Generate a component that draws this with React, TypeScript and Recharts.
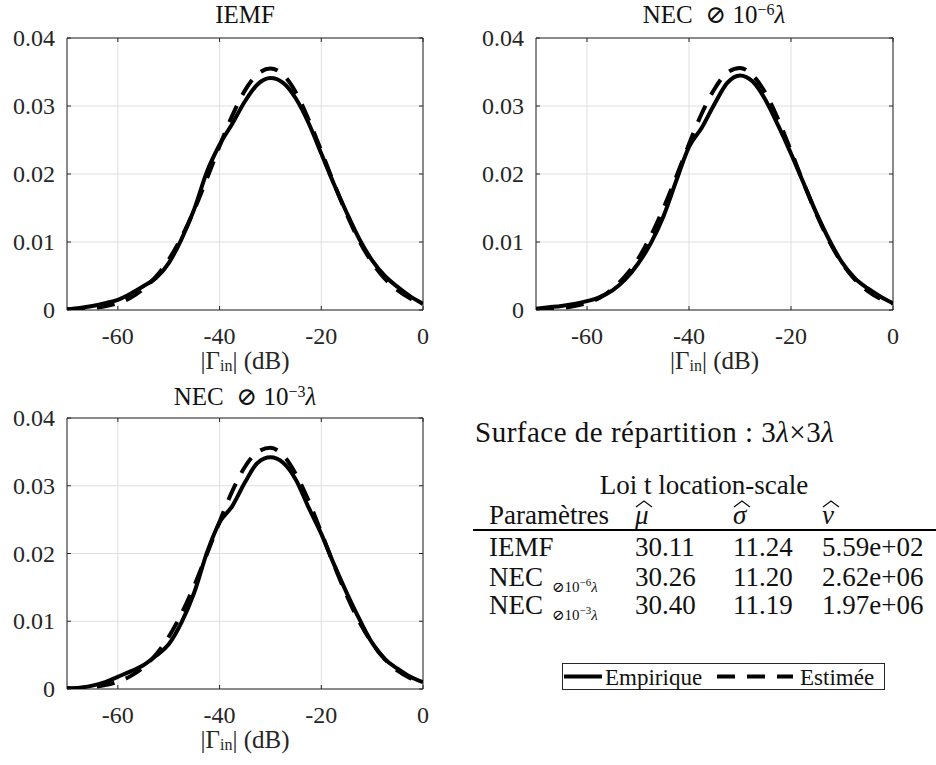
import React from "react"
import {
  CartesianGrid,
  Legend,
  Line,
  LineChart,
  ReferenceArea,
  XAxis,
  YAxis,
} from "recharts"

// |Gamma_in| in dB, sampled every 2.5 dB
const gammaDb = [
  -70, -67.5, -65, -62.5, -60, -57.5, -55, -52.5, -50, -47.5, -45, -42.5, -40,
  -37.5, -35, -32.5, -30, -27.5, -25, -22.5, -20, -17.5, -15, -12.5, -10, -7.5,
  -5, -2.5, 0,
]

const iemfEmpirique = [
  0.0001, 0.0003, 0.0006, 0.001, 0.0015, 0.0024, 0.0035, 0.0047, 0.0069,
  0.0104, 0.0148, 0.0203, 0.0243, 0.0274, 0.0307, 0.0332, 0.0341, 0.0334,
  0.0311, 0.0275, 0.023, 0.0185, 0.0143, 0.0104, 0.0073, 0.005, 0.0034, 0.002,
  0.0009,
]
const iemfEstimee = [
  0.00007, 0.00014, 0.0003, 0.00056, 0.001, 0.0018, 0.0031, 0.0049, 0.0074,
  0.0107, 0.0147, 0.0193, 0.0241, 0.0286, 0.0323, 0.0347, 0.0355, 0.0346,
  0.032, 0.028, 0.0234, 0.0186, 0.0141, 0.0101, 0.007, 0.0046, 0.0029, 0.0017,
  0.001,
]

const nec6Empirique = [
  0.0002, 0.0004, 0.0006, 0.0009, 0.0013, 0.0019, 0.0029, 0.0045, 0.0068,
  0.0098, 0.0138, 0.019, 0.024, 0.0268, 0.0303, 0.0334, 0.0345, 0.0336,
  0.0309, 0.0271, 0.023, 0.0186, 0.0142, 0.0103, 0.007, 0.0047, 0.0032, 0.002,
  0.001,
]
const nec6Estimee = [
  0.00007, 0.00014, 0.0003, 0.00057, 0.00104, 0.0018, 0.0031, 0.005, 0.0075,
  0.0109, 0.015, 0.0196, 0.0244, 0.0289, 0.0325, 0.0349, 0.0356, 0.0345,
  0.0319, 0.028, 0.0234, 0.0186, 0.0141, 0.0101, 0.0069, 0.0045, 0.0028,
  0.00165, 0.00093,
]

const nec3Empirique = [
  0.0001, 0.0002, 0.0005, 0.001, 0.0018, 0.0026, 0.0035, 0.0049, 0.0066,
  0.0098, 0.0142, 0.0201, 0.0246, 0.027, 0.0305, 0.0334, 0.0342, 0.0334,
  0.0309, 0.0268, 0.0229, 0.0184, 0.0142, 0.0103, 0.0068, 0.0044, 0.003,
  0.0018, 0.001,
]
const nec3Estimee = [
  0.00007, 0.00015, 0.0003, 0.00058, 0.00108, 0.0019, 0.0032, 0.0051, 0.0077,
  0.0111, 0.0152, 0.0199, 0.0247, 0.0292, 0.0328, 0.035, 0.0356, 0.0345,
  0.0317, 0.0278, 0.0231, 0.0183, 0.0138, 0.0099, 0.0068, 0.0044, 0.0027,
  0.0016, 0.0009,
]

const xTicks = [-60, -40, -20, 0]
const xTickLabels = ["-60", "-40", "-20", "0"]
const yTicks = [0, 0.01, 0.02, 0.03, 0.04]
const yTickLabels = ["0", "0.01", "0.02", "0.03", "0.04"]

// table: t location-scale fit
const tableNames = ["IEMF", "NEC", "NEC"]
const tableSubExp = ["", "−6", "−3"]
const muHat = ["30.11", "30.26", "30.40"]
const sigmaHat = ["11.24", "11.20", "11.19"]
const nuHat = ["5.59e+02", "2.62e+06", "1.97e+06"]

const legendItems = [
  { name: "Empirique", dash: undefined as string | undefined },
  { name: "Estimée", dash: "18 12" },
]

const FONT = '"Liberation Serif", "DejaVu Serif", serif'
const INK = "#262626"
const GRID = "#dfdfdf"

const toRows = (emp: number[], est: number[]) =>
  gammaDb.map((x, i) => ({ x, emp: emp[i], est: est[i] }))

const makeXTick = (plotH: number) => (p: any) => {
  const { x, y, payload } = p
  const i = xTicks.indexOf(payload.value)
  return (
    <g>
      <line x1={x} y1={y} x2={x} y2={y - 4} stroke={INK} />
      <line x1={x} y1={y - plotH} x2={x} y2={y - plotH + 4} stroke={INK} />
      <text
        x={x}
        y={y + 26}
        textAnchor="middle"
        dominantBaseline="central"
        fontFamily={FONT}
        fontSize={24}
        fill={INK}
      >
        {xTickLabels[i]}
      </text>
    </g>
  )
}

const makeYTick = (plotW: number) => (p: any) => {
  const { x, y, payload } = p
  const i = yTicks.indexOf(payload.value)
  return (
    <g>
      <line x1={x} y1={y} x2={x + 4} y2={y} stroke={INK} />
      <line x1={x + plotW} y1={y} x2={x + plotW - 4} y2={y} stroke={INK} />
      <text
        x={x - 12}
        y={y}
        textAnchor="end"
        dominantBaseline="central"
        fontFamily={FONT}
        fontSize={24}
        fill={INK}
      >
        {yTickLabels[i]}
      </text>
    </g>
  )
}

const XLabel = (props: any) => {
  const { viewBox } = props
  const cx = viewBox.x + viewBox.width / 2
  const cy = viewBox.y + 50
  return (
    <text
      x={cx}
      y={cy}
      textAnchor="middle"
      dominantBaseline="central"
      fontFamily={FONT}
      fontSize={25}
      fill={INK}
    >
      <tspan>|Γ</tspan>
      <tspan dy={5} fontSize={16}>
        in
      </tspan>
      <tspan dy={-5}>| (dB)</tspan>
    </text>
  )
}

const LegendBox = () => (
  <svg width={323} height={27} style={{ display: "block" }}>
    <rect x={0.5} y={0.5} width={322} height={26} fill="#fff" stroke={INK} />
    <line x1={2} y1={13.5} x2={40} y2={13.5} stroke="#000" strokeWidth={4} />
    <text x={43} y={14} dominantBaseline="central" fontFamily={FONT} fontSize={23} fill="#111">
      {legendItems[0].name}
    </text>
    <line
      x1={155}
      y1={13.5}
      x2={231}
      y2={13.5}
      stroke="#000"
      strokeWidth={4}
      strokeDasharray={legendItems[1].dash}
    />
    <text x={238} y={14} dominantBaseline="central" fontFamily={FONT} fontSize={23} fill="#111">
      {legendItems[1].name}
    </text>
  </svg>
)

type PanelProps = {
  data: { x: number; emp: number; est: number }[]
  width: number
  height: number
  margin: { top: number; right: number; bottom: number; left: number }
  xAxisHeight: number
  plotW: number
  plotH: number
  legendPos?: { left: number; top: number }
}

const PdfPanel: React.FC<PanelProps> = ({
  data,
  width,
  height,
  margin,
  xAxisHeight,
  plotW,
  plotH,
  legendPos,
}) => (
  <LineChart width={width} height={height} data={data} margin={margin}>
    <CartesianGrid stroke={GRID} strokeWidth={1} />
    <XAxis
      dataKey="x"
      type="number"
      domain={[-70, 0]}
      ticks={xTicks}
      interval={0}
      tickSize={0}
      tickMargin={0}
      tickLine={false}
      axisLine={false}
      height={xAxisHeight}
      allowDataOverflow
      tick={makeXTick(plotH)}
      label={<XLabel />}
    />
    <YAxis
      type="number"
      domain={[0, 0.04]}
      ticks={yTicks}
      interval={0}
      width={67}
      tickSize={0}
      tickMargin={0}
      tickLine={false}
      axisLine={false}
      allowDataOverflow
      tick={makeYTick(plotW)}
    />
    <ReferenceArea
      x1={-70}
      x2={0}
      y1={0}
      y2={0.04}
      fill="#fff"
      fillOpacity={0}
      stroke={INK}
      strokeWidth={1}
      ifOverflow="visible"
    />
    <Line
      dataKey="emp"
      name={legendItems[0].name}
      type="monotone"
      stroke="#000"
      strokeWidth={4}
      dot={false}
      isAnimationActive={false}
    />
    <Line
      dataKey="est"
      name={legendItems[1].name}
      type="monotone"
      stroke="#000"
      strokeWidth={4}
      strokeDasharray={legendItems[1].dash}
      dot={false}
      isAnimationActive={false}
    />
    {legendPos && (
      <Legend
        layout="horizontal"
        verticalAlign="middle"
        align="center"
        wrapperStyle={{
          position: "absolute",
          left: legendPos.left,
          top: legendPos.top,
          width: 323,
          height: 27,
          margin: 0,
        }}
        content={() => <LegendBox />}
      />
    )}
  </LineChart>
)

const titleStyle = (cx: number, cy: number): React.CSSProperties => ({
  position: "absolute",
  left: cx - 200,
  width: 400,
  top: cy - 16,
  height: 32,
  lineHeight: "32px",
  textAlign: "center",
  fontFamily: FONT,
  fontSize: 25,
  color: "#111",
  whiteSpace: "nowrap",
})

const cell = (left: number, cy: number, extra?: React.CSSProperties): React.CSSProperties => ({
  position: "absolute",
  left,
  top: cy - 16,
  height: 32,
  lineHeight: "32px",
  fontFamily: FONT,
  fontSize: 27,
  color: "#111",
  whiteSpace: "nowrap",
  ...extra,
})

const Hat: React.FC<{ ch: string }> = ({ ch }) => (
  <span style={{ position: "relative", display: "inline-block", fontStyle: "italic" }}>
    <svg
      width={18}
      height={8}
      style={{ position: "absolute", left: 0, top: 1 }}
    >
      <polyline points="1,7 9,1 17,7" fill="none" stroke="#111" strokeWidth={1.3} />
    </svg>
    {ch}
  </span>
)

const NecTitle: React.FC<{ exp: string }> = ({ exp }) => (
  <span>
    NEC&nbsp;&nbsp;⊘&nbsp;10
    <sup style={{ fontSize: 16, verticalAlign: "8px", lineHeight: 0 }}>{exp}</sup>
    <i>λ</i>
  </span>
)

const rowY = [547, 577, 605]

export default function App() {
  return (
    <div
      style={{
        position: "absolute",
        left: 0,
        top: 0,
        width: 936,
        height: 765,
        background: "#fff",
        overflow: "hidden",
      }}
    >
      <div style={{ position: "absolute", left: 0, top: 0 }}>
        <PdfPanel
          data={toRows(iemfEmpirique, iemfEstimee)}
          width={440}
          height={380}
          margin={{ top: 38, right: 17, bottom: 0, left: 0 }}
          xAxisHeight={70}
          plotW={356}
          plotH={272}
        />
      </div>
      <div style={{ position: "absolute", left: 440, top: 0 }}>
        <PdfPanel
          data={toRows(nec6Empirique, nec6Estimee)}
          width={496}
          height={380}
          margin={{ top: 38, right: 43, bottom: 0, left: 29 }}
          xAxisHeight={70}
          plotW={357}
          plotH={272}
        />
      </div>
      <div style={{ position: "absolute", left: 0, top: 380 }}>
        <PdfPanel
          data={toRows(nec3Empirique, nec3Estimee)}
          width={936}
          height={385}
          margin={{ top: 38, right: 513, bottom: 0, left: 0 }}
          xAxisHeight={76}
          plotW={356}
          plotH={271}
          legendPos={{ left: 562, top: 283 }}
        />
      </div>

      <div style={titleStyle(245, 15)}>IEMF</div>
      <div style={titleStyle(714, 15)}>
        <NecTitle exp="−6" />
      </div>
      <div style={titleStyle(245, 397)}>
        <NecTitle exp="−3" />
      </div>

      <div style={cell(475, 432, { fontSize: 29, letterSpacing: 0.5 })}>
        Surface de répartition : 3<i>λ</i>×3<i>λ</i>
      </div>
      <div style={cell(504, 485, { width: 400, textAlign: "center" })}>
        Loi t location-scale
      </div>
      <div style={cell(489, 515)}>Paramètres</div>
      <div style={cell(635, 515)}>
        <Hat ch="μ" />
      </div>
      <div style={cell(733, 515)}>
        <Hat ch="σ" />
      </div>
      <div style={cell(822, 515)}>
        <Hat ch="ν" />
      </div>
      <div
        style={{
          position: "absolute",
          left: 473,
          top: 529,
          width: 463,
          height: 2,
          background: "#000",
        }}
      />
      {tableNames.map((name, i) => (
        <React.Fragment key={i}>
          <div style={cell(489, rowY[i])}>
            {name}
            {tableSubExp[i] && (
              <span style={{ fontSize: 15, position: "relative", top: 6, marginLeft: 9 }}>
                ⊘10
                <sup style={{ fontSize: 11, lineHeight: 0 }}>{tableSubExp[i]}</sup>
                <i>λ</i>
              </span>
            )}
          </div>
          <div style={cell(635, rowY[i])}>{muHat[i]}</div>
          <div style={cell(733, rowY[i])}>{sigmaHat[i]}</div>
          <div style={cell(822, rowY[i])}>{nuHat[i]}</div>
        </React.Fragment>
      ))}
    </div>
  )
}
